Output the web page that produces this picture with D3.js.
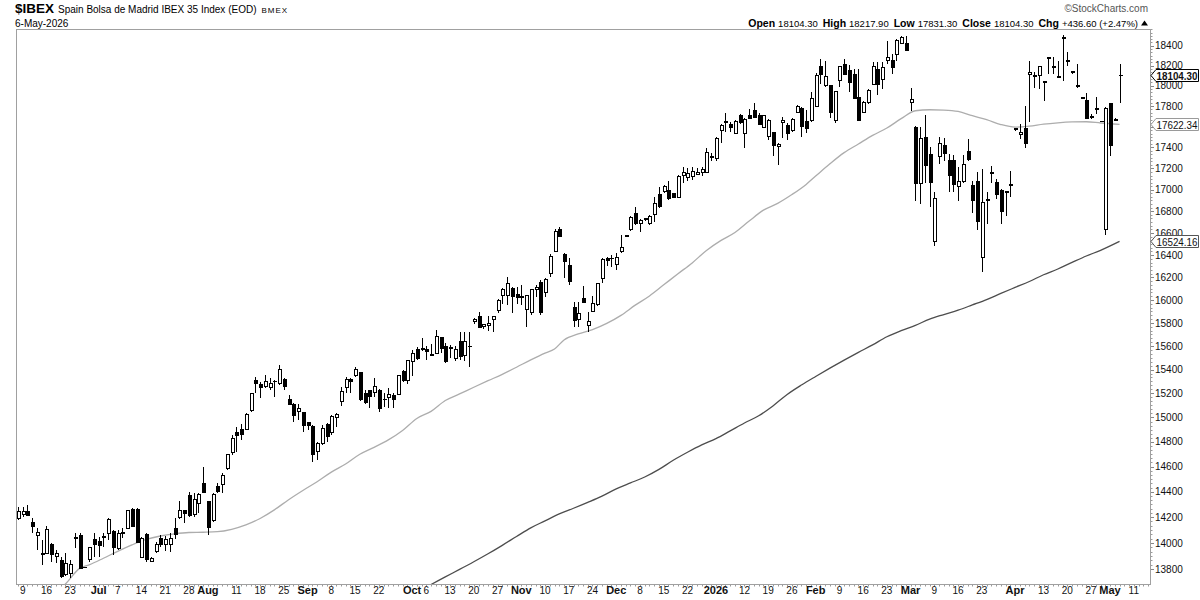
<!DOCTYPE html>
<html>
<head>
<meta charset="utf-8">
<script src="https://cdn.jsdelivr.net/npm/d3@7"></script>
<style>
  body { margin: 0; background: #fff; }
  svg text { font-family: "Liberation Sans", Arial, sans-serif; }
</style>
</head>
<body>
<div id="chart"></div>
<script>
// BME trading calendar used for the x axis
var startDate = "2025-06-06";
var dayCount = 239;
var holidays = ["2025-12-25", "2025-12-26", "2026-01-01", "2026-04-03", "2026-04-06", "2026-05-01"];

// daily OHLC, from 6-Jun-2025 to 6-May-2026
var open = [14192,14224,14248,14156,14057,13921,13921,13985,13895,13863,13757,13770,14032,14055,13812,13871,14030,14011,14045,14070,
  14089,13960,14070,14114,14257,14257,13890,14063,13858,13934,14032,13991,13991,14114,14197,14250,14368,14218,14310,14463,
  14322,14171,14442,14458,14587,14712,14875,14898,14898,15054,15304,15270,15256,15251,15298,15279,15318,15152,15110,15048,
  15040,14957,14924,14721,14789,14946,14876,15002,15130,15248,15318,15349,15377,15200,15220,15206,15228,15145,15165,15180,
  15193,15383,15312,15466,15569,15575,15569,15520,15540,15670,15598,15580,15496,15642,15518,15595,15815,15860,15768,15774,
  15826,15908,16036,16042,16104,16045,16025,15920,15891,16089,16157,16065,16231,16434,16628,16407,16310,15937,15832,16016,
  15777,15900,15957,16190,16370,16365,16316,16430,16568,16634,16780,16689,16720,16689,16766,16951,16981,16997,16967,16930,
  17130,17115,17120,17144,17162,17159,17300,17296,17567,17640,17622,17536,17703,17536,17710,17761,17706,17593,17503,17542,
  17407,17642,17615,17567,17739,17777,17654,17657,17793,18196,18000,18007,17664,18047,18216,18156,18113,17886,17739,17830,
  18017,18163,18060,18256,18256,18316,18427,18427,17830,17593,17054,17491,17337,16522,17315,17416,17280,17273,17032,17075,
  17358,17044,17075,16380,16900,17153,17070,16991,16970,17040,17570,17526,17577,18115,18095,18100,18035,18270,18178,18080,
  18470,18245,18128,17995,17871,17852,17691,17763,17650,16628,17827,17660,18104.30];
var high = [14283,14283,14295,14192,14114,14024,14134,13998,13947,13895,13921,13871,14080,14076,13820,13973,14076,14050,14076,14192,
  14101,14101,14114,14257,14270,14270,14050,14076,13895,14011,14058,14055,14076,14192,14329,14257,14401,14388,14388,14600,
  14330,14388,14469,14547,14700,14858,14925,14948,15035,15205,15340,15298,15355,15326,15312,15440,15327,15186,15121,15110,
  15045,14966,14938,14802,14938,14957,15021,15035,15256,15340,15327,15420,15383,15228,15228,15327,15234,15206,15243,15200,
  15355,15397,15484,15569,15589,15670,15598,15621,15735,15679,15627,15610,15600,15720,15720,15720,15845,15898,15791,15858,
  15862,16007,16104,16207,16113,16119,16134,16040,16100,16134,16178,16193,16410,16634,16652,16422,16370,15986,15986,16125,
  15891,16039,16154,16370,16385,16400,16416,16580,16585,16756,16842,16726,16740,16763,16935,17022,17043,17083,16972,17137,
  17210,17200,17210,17200,17210,17391,17345,17503,17622,17737,17640,17664,17719,17680,17768,17832,17729,17713,17670,17551,
  17439,17690,17631,17680,17810,17787,17761,17941,18129,18263,18246,18010,17948,18196,18263,18206,18163,18167,17852,17967,
  18233,18233,18233,18450,18316,18467,18502,18502,17974,17609,17593,17713,17401,16976,17497,17487,17337,17327,17210,17327,
  17482,17085,17163,17194,16976,17226,17100,17007,16991,17180,17590,17625,17797,18250,18133,18196,18050,18290,18285,18250,
  18508,18333,18145,18216,17890,17925,17720,17886,17652,17793,17830,17680,18217.90];
var low = [14179,14201,14217,14076,13947,13833,13915,13858,13846,13732,13749,13732,13960,13800,13808,13858,13895,13895,13973,14024,
  13908,13947,14037,14110,14126,14000,13882,13858,13858,13926,13973,13940,13934,14032,14185,14154,14204,14204,14230,14388,
  14063,14166,14393,14393,14574,14694,14720,14816,14895,15048,15206,15159,15243,15225,15167,15270,15228,15102,14966,14975,
  14883,14898,14641,14654,14776,14802,14857,14924,15093,15200,15200,15340,15138,15110,15082,15172,15048,15088,15075,15075,
  15186,15291,15279,15346,15484,15555,15484,15518,15534,15540,15453,15500,15470,15480,15470,15420,15790,15754,15748,15726,
  15718,15886,15966,15957,15886,15966,15957,15763,15871,16030,15871,16030,16202,16425,16565,16193,16134,15768,15768,15972,
  15718,15895,15950,16149,16300,16295,16262,16416,16560,16622,16674,16613,16710,16674,16705,16828,16967,16904,16920,16920,
  17065,17083,17090,17135,17125,17153,17275,17273,17439,17550,17550,17526,17625,17391,17670,17680,17615,17583,17471,17318,
  17231,17487,17471,17551,17729,17497,17536,17648,17787,18014,17984,17680,17638,17984,18106,17941,17870,17650,17735,17820,
  18004,17908,17967,18216,18116,18243,18417,18350,17754,16898,16867,17063,16837,16485,17240,17273,16981,16981,16898,17063,
  17273,16784,16631,16246,16683,17063,16911,16683,16760,16930,17560,17482,17391,17642,17974,17967,17853,18117,18117,18080,
  18050,18200,18120,17974,17865,17680,17675,17722,17648,16583,17320,17650,17831.30];
var close = [14244,14248,14217,14127,14083,13908,14106,13908,13921,13744,13846,13838,14042,13802,13815,13968,13985,13980,14050,14185,
  13965,14076,14082,14252,14131,14003,14037,13875,13882,13991,13991,14024,14037,14063,14252,14232,14212,14335,14381,14393,
  14119,14381,14401,14533,14694,14825,14856,14857,15021,15200,15279,15251,15298,15284,15296,15397,15256,15110,15014,15070,
  14932,14932,14700,14789,14911,14843,15007,15021,15214,15318,15298,15397,15152,15125,15172,15256,15070,15152,15193,15150,
  15346,15312,15475,15540,15496,15580,15555,15527,15679,15582,15466,15590,15575,15510,15642,15600,15830,15759,15783,15791,
  15860,15995,16089,16148,16030,16025,16030,16036,16095,16113,15891,16178,16385,16613,16568,16341,16163,15820,15886,15977,
  15811,15966,16143,16356,16350,16372,16380,16470,16575,16744,16683,16713,16730,16748,16874,16843,17034,16920,16930,17128,
  17159,17153,17168,17159,17190,17349,17310,17487,17609,17648,17590,17654,17638,17670,17680,17690,17625,17703,17664,17416,
  17429,17664,17536,17670,17793,17599,17583,17876,18106,18113,18096,17735,17941,18190,18113,18030,17876,17657,17836,17951,
  18193,18017,18183,18283,18183,18450,18485,18350,17862,17054,17482,17232,17063,16920,17439,17346,17131,17045,17079,17240,
  17289,16898,16705,16883,16907,17163,16957,16797,16980,17048,17580,17545,17433,18130,18105,18193,18045,18280,18188,18090,
  18480,18255,18138,18005,17881,17680,17700,17773,17650,17777,17420,17667.70,18104.30];

// 50-day and 200-day simple moving averages, read at sample dates
var ma50Dates = ["2025-06-18","2025-06-20","2025-06-25","2025-06-27","2025-07-02","2025-07-07","2025-07-10","2025-07-15","2025-07-18","2025-07-23",
  "2025-07-28","2025-07-31","2025-08-05","2025-08-08","2025-08-13","2025-08-18","2025-08-21","2025-08-26","2025-08-29","2025-09-03",
  "2025-09-08","2025-09-11","2025-09-16","2025-09-19","2025-09-24","2025-09-29","2025-10-02","2025-10-07","2025-10-10","2025-10-15",
  "2025-10-20","2025-10-23","2025-10-28","2025-10-31","2025-11-05","2025-11-10","2025-11-12","2025-11-14","2025-11-19","2025-11-24",
  "2025-11-27","2025-12-02","2025-12-05","2025-12-10","2025-12-15","2025-12-18","2025-12-23","2025-12-30","2026-01-05","2026-01-08",
  "2026-01-13","2026-01-16","2026-01-21","2026-01-26","2026-01-29","2026-02-02","2026-02-05","2026-02-10","2026-02-13","2026-02-18",
  "2026-02-23","2026-02-26","2026-03-03","2026-03-06","2026-03-11","2026-03-16","2026-03-19","2026-03-24","2026-03-27","2026-04-01",
  "2026-04-08","2026-04-13","2026-04-16","2026-04-21","2026-04-24","2026-04-29","2026-05-06"];
var ma50Values = [13620,13688,13806,13833,13883,13936,13985,14027,14054,14071,
  14081,14083,14087,14106,14140,14190,14257,14337,14410,14479,
  14556,14621,14700,14756,14816,14893,14992,15050,15140,15195,
  15251,15306,15360,15420,15482,15540,15575,15653,15705,15742,
  15796,15866,15955,16036,16134,16233,16330,16442,16531,16605,
  16710,16810,16873,16955,17050,17128,17244,17350,17433,17516,
  17586,17677,17754,17764,17761,17747,17706,17668,17620,17595,
  17604,17624,17637,17645,17647,17635,17622.34];

var ma200Dates = ["2025-10-03","2025-10-07","2025-10-10","2025-10-15","2025-10-20","2025-10-23","2025-10-28","2025-10-31","2025-11-05","2025-11-10",
  "2025-11-13","2025-11-18","2025-11-21","2025-11-26","2025-12-01","2025-12-04","2025-12-09","2025-12-12","2025-12-17","2025-12-22",
  "2025-12-29","2026-01-02","2026-01-07","2026-01-12","2026-01-15","2026-01-20","2026-01-23","2026-01-28","2026-02-02","2026-02-05",
  "2026-02-10","2026-02-13","2026-02-18","2026-02-23","2026-02-26","2026-03-03","2026-03-06","2026-03-11","2026-03-16","2026-03-19",
  "2026-03-24","2026-03-27","2026-04-01","2026-04-08","2026-04-13","2026-04-16","2026-04-21","2026-04-24","2026-04-29","2026-05-06"];
var ma200Values = [13644,13684,13742,13798,13856,13917,13982,14050,14117,14171,
  14226,14270,14316,14365,14423,14470,14517,14578,14651,14716,
  14776,14827,14890,14954,15014,15095,15191,15270,15342,15412,
  15480,15546,15611,15680,15733,15779,15833,15873,15911,15957,
  16004,16058,16111,16164,16224,16275,16334,16392,16443,16524.16];

var yTicks = [13800,14000,14200,14400,14600,14800,15000,15200,15400,15600,15800,16000,16200,16400,16600,16800,17000,17200,17400,17600,17800,18000,18200,18400];

var xTickDates = ["2025-06-09","2025-06-16","2025-06-23","2025-07-01","2025-07-07","2025-07-14","2025-07-21","2025-07-28","2025-08-01","2025-08-11",
  "2025-08-18","2025-08-25","2025-09-01","2025-09-08","2025-09-15","2025-09-22","2025-10-01","2025-10-06","2025-10-13","2025-10-20",
  "2025-10-27","2025-11-03","2025-11-10","2025-11-17","2025-11-24","2025-12-01","2025-12-08","2025-12-15","2025-12-22","2026-01-02",
  "2026-01-12","2026-01-19","2026-01-26","2026-02-02","2026-02-09","2026-02-16","2026-02-23","2026-03-02","2026-03-09","2026-03-16",
  "2026-03-23","2026-04-01","2026-04-13","2026-04-20","2026-04-27","2026-05-04","2026-05-11"];
var xTickLabels = ["9","16","23","Jul","7","14","21","28","Aug","11",
  "18","25","Sep","8","15","22","Oct","6","13","20",
  "27","Nov","10","17","24","Dec","8","15","22","2026",
  "12","19","26","Feb","9","16","23","Mar","9","16",
  "23","Apr","13","20","27","May","11"];

function tradingDays(start, n) {
    var out = [], d = new Date(start + "T00:00:00Z");
    while (out.length < n) {
        var s = d.toISOString().slice(0, 10), wd = d.getUTCDay();
        if (wd !== 0 && wd !== 6 && holidays.indexOf(s) < 0) out.push(s);
        d.setUTCDate(d.getUTCDate() + 1);
    }
    return out;
}

function drawChart() {
    var W = 1200, H = 600;
    var left = 16, right = 1150, top = 29, bottom = 584;
    var dates = tradingDays(startDate, dayCount);

    var svg = d3.select("#chart").append("svg")
        .attr("width", W).attr("height", H)
        .attr("viewBox", "0 0 " + W + " " + H);

    var x = d3.scalePoint().domain(dates).range([left, right]).padding(0.412);
    var y = d3.scaleLog().domain([13688, 18570]).range([bottom, top]);

    svg.append("clipPath").attr("id", "plot")
        .append("rect").attr("x", left).attr("y", top)
        .attr("width", right - left).attr("height", bottom - top);

    // frame
    svg.append("rect")
        .attr("x", left + 0.5).attr("y", top + 0.5)
        .attr("width", right - left).attr("height", bottom - top)
        .attr("fill", "none").attr("stroke", "#a0a0a0");

    // x axis: small daily ticks + labels
    svg.append("g").selectAll("line").data(dates).enter().append("line")
        .attr("x1", function (d) { return Math.round(x(d)) + 0.5; })
        .attr("x2", function (d) { return Math.round(x(d)) + 0.5; })
        .attr("y1", bottom + 1).attr("y2", bottom + 2.5)
        .attr("stroke", "#9a9a9a");
    svg.append("g").selectAll("text").data(xTickDates).enter().append("text")
        .attr("x", function (d) { return x(d); })
        .attr("y", 594)
        .attr("text-anchor", "middle")
        .style("font-size", function (d, i) { return isNaN(+xTickLabels[i]) || xTickLabels[i] === "2026" ? "11px" : "10px"; })
        .style("font-weight", function (d, i) { return isNaN(+xTickLabels[i]) || xTickLabels[i] === "2026" ? "bold" : "normal"; })
        .attr("fill", "#111")
        .text(function (d, i) { return xTickLabels[i]; });

    // y axis on the right (log scale)
    var minor = [];
    for (var t = 13800; t < 18600; t += 200 / 6) minor.push(t);
    svg.append("g").selectAll("line").data(minor.filter(function (v) { return y(v) > top && y(v) < bottom; })).enter().append("line")
        .attr("x1", right + 1).attr("x2", right + 2.5)
        .attr("y1", function (d) { return Math.round(y(d)) + 0.5; })
        .attr("y2", function (d) { return Math.round(y(d)) + 0.5; })
        .attr("stroke", "#9a9a9a");

    var tags = [
        { v: 18104.30, text: "18104.30", stroke: "#000", bold: true },
        { v: 17622.34, text: "17622.34", stroke: "#9a9a9a", bold: false },
        { v: 16524.16, text: "16524.16", stroke: "#555", bold: false }
    ];
    var shownTicks = yTicks.filter(function (t) {
        return tags.every(function (g) { return Math.abs(y(g.v) - y(t)) > 7; });
    });
    svg.append("g").selectAll("line").data(yTicks).enter().append("line")
        .attr("x1", right + 1).attr("x2", right + 4)
        .attr("y1", function (d) { return Math.round(y(d)) + 0.5; })
        .attr("y2", function (d) { return Math.round(y(d)) + 0.5; })
        .attr("stroke", "#888");
    svg.append("g").selectAll("text").data(shownTicks).enter().append("text")
        .attr("x", right + 5).attr("y", function (d) { return y(d) + 3.6; })
        .style("font-size", "10px").attr("fill", "#111")
        .text(function (d) { return d; });

    // moving averages
    var plot = svg.append("g").attr("clip-path", "url(#plot)");
    var line = d3.line()
        .x(function (d) { return x(d[0]); })
        .y(function (d) { return y(d[1]); })
        .curve(d3.curveMonotoneX);
    plot.append("path")
        .datum(ma50Dates.map(function (d, i) { return [d, ma50Values[i]]; }))
        .attr("d", line).attr("fill", "none")
        .attr("stroke", "#adadad").attr("stroke-width", 1.3);
    plot.append("path")
        .datum(ma200Dates.map(function (d, i) { return [d, ma200Values[i]]; }))
        .attr("d", line).attr("fill", "none")
        .attr("stroke", "#4d4d4d").attr("stroke-width", 1.3);

    // candles
    var rows = close.map(function (c, i) {
        return { date: dates[i], o: open[i], h: high[i], l: low[i], c: c };
    });
    var candle = plot.selectAll(".candle").data(rows).enter().append("g")
        .attr("shape-rendering", "crispEdges");
    candle.append("line")
        .attr("x1", function (d) { return Math.round(x(d.date)) + 0.5; })
        .attr("x2", function (d) { return Math.round(x(d.date)) + 0.5; })
        .attr("y1", function (d) { return y(d.h); })
        .attr("y2", function (d) { return y(d.l); })
        .attr("stroke", "#000");
    candle.append("rect")
        .attr("x", function (d) { return Math.round(x(d.date)) - 1; })
        .attr("y", function (d) { return y(Math.max(d.o, d.c)); })
        .attr("width", 3)
        .attr("height", function (d) { return Math.max(0.01, Math.abs(y(d.o) - y(d.c))); })
        .attr("fill", function (d) { return d.c < d.o ? "#000" : "#fff"; })
        .attr("stroke", "#000");

    // price tags on the axis
    tags.forEach(function (g) {
        var ty = Math.round(y(g.v)) + 0.5, x0 = right + 1;
        svg.append("path")
            .attr("d", "M" + x0 + "," + ty + "L" + (x0 + 5) + "," + (ty - 6) + "L1198.5," + (ty - 6) +
                "L1198.5," + (ty + 6) + "L" + (x0 + 5) + "," + (ty + 6) + "Z")
            .attr("fill", "#fff").attr("stroke", g.stroke);
        svg.append("text")
            .attr("x", x0 + 5.5).attr("y", ty + 4)
            .attr("textLength", 41).attr("lengthAdjust", "spacingAndGlyphs")
            .style("font-size", g.bold ? "10.5px" : "10px")
            .style("font-weight", g.bold ? "bold" : "normal")
            .attr("fill", "#111")
            .text(g.text);
    });

    // header
    var title = svg.append("text").attr("x", 15).attr("y", 12.5).attr("fill", "#000");
    title.append("tspan").style("font-size", "13.5px").style("font-weight", "bold").text("$IBEX");
    title.append("tspan").attr("dx", 4).style("font-size", "10px").text("Spain Bolsa de Madrid IBEX 35 Index (EOD)");
    title.append("tspan").attr("dx", 5).style("font-size", "8px").style("letter-spacing", "1px").text("BMEX");
    svg.append("text").attr("x", 15).attr("y", 26.5).style("font-size", "10px").attr("fill", "#000").text("6-May-2026");

    svg.append("text").attr("x", 1148).attr("y", 11.5).attr("text-anchor", "end")
        .style("font-size", "10px").attr("fill", "#555").text("\u00a9StockCharts.com");

    var stats = [["Open", "18104.30"], ["High", "18217.90"], ["Low", "17831.30"], ["Close", "18104.30"], ["Chg", "+436.60 (+2.47%)"]];
    var st = svg.append("text").attr("x", 1138).attr("y", 26.5).attr("text-anchor", "end").attr("fill", "#000");
    stats.forEach(function (s, i) {
        st.append("tspan").attr("dx", i === 0 ? 0 : 5).style("font-size", "10.5px").style("font-weight", "bold").text(s[0]);
        st.append("tspan").attr("dx", 3).style("font-size", "9.5px").text(s[1]);
    });
    svg.append("path").attr("d", "M1141,25.5L1148,25.5L1144.5,20.5Z").attr("fill", "#000");
}

drawChart();
</script>
</body>
</html>
